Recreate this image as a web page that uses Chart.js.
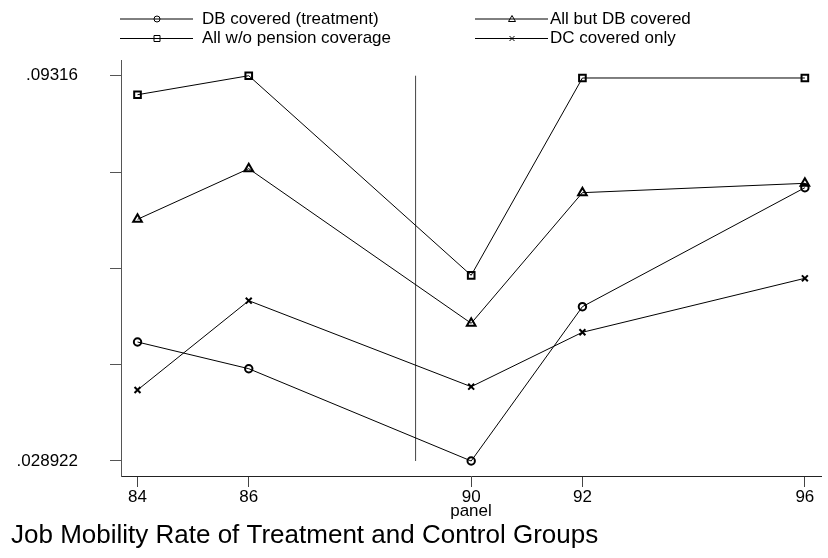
<!DOCTYPE html>
<html>
<head>
<meta charset="utf-8">
<script src="https://cdn.jsdelivr.net/npm/chart.js@4.4.1/dist/chart.umd.min.js"></script>
<style>
  html, body { margin: 0; padding: 0; background: #fff; }
  #wrap { width: 828px; height: 558px; }
</style>
</head>
<body>
<div id="wrap"><canvas id="grafico"></canvas></div>
<script>
// valores
const panels = [84, 86, 90, 92, 96];
const dbCovered = [0.04876, 0.04431, 0.028922, 0.05465, 0.07449];
const allButDb = [0.06922, 0.07766, 0.05188, 0.07366, 0.07522];
const noPension = [0.08999, 0.09316, 0.05988, 0.09278, 0.09278];
const dcOnly = [0.04076, 0.05565, 0.04131, 0.05038, 0.05938];
const yTicks = [0.028922, 0.0449815, 0.061041, 0.0771005, 0.09316];
const yTickLabels = ['.028922', '', '', '', '.09316'];
const policyYear = 89;

const FONT = "'Liberation Sans', Arial, sans-serif";

function pts(values) {
  return panels.map((p, i) => ({ x: p, y: values[i] }));
}

function serie(label, values, style, radius) {
  return {
    label: label,
    data: pts(values),
    borderColor: '#000',
    borderWidth: 1,
    pointStyle: style,
    pointRadius: radius,
    pointBorderWidth: 2,
    pointBorderColor: '#000',
    pointBackgroundColor: 'rgba(0,0,0,0)',
    tension: 0
  };
}

// legenda desenhada à mão (duas colunas como no original)
function marcador(c, style, x, y) {
  c.beginPath();
  if (style === 'circle') {
    c.arc(x, y, 3, 0, Math.PI * 2);
  } else if (style === 'rect') {
    c.rect(x - 3, y - 3, 6, 6);
  } else if (style === 'triangle') {
    c.moveTo(x, y - 3.5);
    c.lineTo(x + 3.5, y + 2.5);
    c.lineTo(x - 3.5, y + 2.5);
    c.closePath();
  } else {
    c.moveTo(x - 2.5, y - 2.5); c.lineTo(x + 2.5, y + 2.5);
    c.moveTo(x + 2.5, y - 2.5); c.lineTo(x - 2.5, y + 2.5);
  }
  c.stroke();
}

const legendaPlugin = {
  id: 'legendaStata',
  afterDraw(chart) {
    const c = chart.ctx;
    const cols = [{ x: 120, tx: 202 }, { x: 475, tx: 550 }];
    const rows = [19, 38.5];
    c.save();
    c.font = '17px ' + FONT;
    c.textBaseline = 'middle';
    c.fillStyle = '#000';
    chart.data.datasets.slice(0, 4).forEach((ds, i) => {
      const col = cols[i % 2];
      const y = rows[Math.floor(i / 2)];
      c.strokeStyle = '#000';
      c.lineWidth = 1;
      c.beginPath();
      c.moveTo(col.x, y);
      c.lineTo(col.x + 73, y);
      c.stroke();
      marcador(c, ds.pointStyle, col.x + 37, y);
      c.fillText(ds.label, col.tx, y);
    });
    c.restore();
  }
};

const ctx = document.getElementById('grafico');

new Chart(ctx, {
  type: 'line',
  data: {
    datasets: [
      serie('DB covered (treatment)', dbCovered, 'circle', 3.7),
      serie('All but DB covered', allButDb, 'triangle', 5),
      serie('All w/o pension coverage', noPension, 'rect', 4.7),
      serie('DC covered only', dcOnly, 'crossRot', 4.2),
      {
        label: 'policy',
        data: [{ x: policyYear, y: yTicks[0] }, { x: policyYear, y: yTicks[yTicks.length - 1] }],
        borderColor: '#444',
        borderWidth: 1,
        pointRadius: 0
      }
    ]
  },
  options: {
    responsive: true,
    maintainAspectRatio: false,
    animation: false,
    layout: { padding: { top: 60, left: 11, right: 0, bottom: 0 } },
    scales: {
      x: {
        type: 'linear',
        min: 83.703,
        max: 96.29,
        afterBuildTicks: s => { s.ticks = panels.map(v => ({ value: v })); },
        afterFit: s => { s.height = 44.4; s.paddingLeft = 0; s.paddingRight = 0; },
        ticks: {
          autoSkip: false,
          maxRotation: 0,
          padding: 0,
          color: '#000',
          font: { family: FONT, size: 17 },
          callback: v => String(v)
        },
        grid: { drawOnChartArea: false, drawTicks: true, tickLength: 11, color: '#444' },
        border: { color: '#222', width: 1 },
        title: {
          display: true,
          text: 'panel',
          color: '#000',
          font: { family: FONT, size: 17 },
          padding: { top: 0, bottom: -1 }
        }
      },
      y: {
        type: 'linear',
        min: 0.02642,
        max: 0.09578,
        afterBuildTicks: s => { s.ticks = yTicks.map(v => ({ value: v })); },
        afterFit: s => { s.width = 110; s.paddingTop = 0; s.paddingBottom = 0; },
        ticks: {
          autoSkip: false,
          padding: 32,
          color: '#000',
          font: { family: FONT, size: 17 },
          callback: (v, i) => yTickLabels[i]
        },
        grid: { drawOnChartArea: false, drawTicks: true, tickLength: 11, color: '#555' },
        border: { color: '#555', width: 1 }
      }
    },
    plugins: {
      legend: { display: false },
      tooltip: { enabled: false },
      title: {
        display: true,
        position: 'bottom',
        align: 'start',
        text: 'Job Mobility Rate of Treatment and Control Groups',
        color: '#000',
        font: { family: FONT, size: 26, weight: 'normal' },
        padding: { top: 0, bottom: 6.4 }
      }
    }
  },
  plugins: [legendaPlugin]
});
</script>
</body>
</html>
